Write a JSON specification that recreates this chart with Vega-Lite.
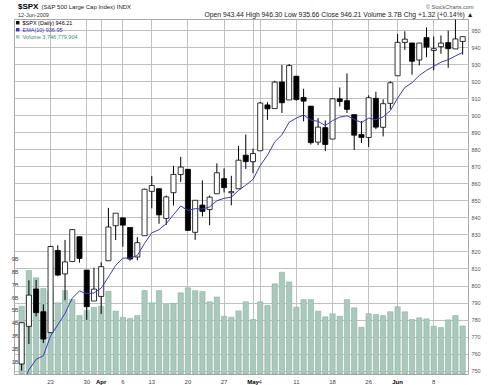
{
  "$schema": "https://vega.github.io/schema/vega-lite/v6.json",
  "width": 454,
  "height": 355,
  "autosize": {"type": "none"},
  "padding": {"left": 14, "top": 19, "right": 21, "bottom": 11},
  "background": "white",
  "title": {
    "text": "$SPX",
    "subtitle": "12-Jun-2009",
    "anchor": "start",
    "frame": "group",
    "offset": -15,
    "dx": 4,
    "font": "Liberation Sans",
    "fontSize": 8,
    "fontWeight": "bold",
    "color": "#000000",
    "subtitleFont": "Liberation Sans",
    "subtitleFontSize": 5.5,
    "subtitleColor": "#333333",
    "subtitlePadding": 2
  },
  "config": {
    "view": {"stroke": "#a8a8a8", "strokeWidth": 1},
    "axis": {"labelFont": "Liberation Sans", "titleFont": "Liberation Sans", "zindex": 0},
    "legend": {"labelFont": "Liberation Sans"}
  },
  "data": {
    "values": [
      {"date": "2009-03-17", "open": 753.88, "high": 778.12, "low": 749.93, "close": 778.12, "volume": 5280000000, "ema": 740.71},
      {"date": "2009-03-18", "open": 776.01, "high": 803.04, "low": 765.64, "close": 794.35, "volume": 8070000000, "ema": 750.46},
      {"date": "2009-03-19", "open": 797.92, "high": 803.24, "low": 781.82, "close": 784.04, "volume": 7500000000, "ema": 756.57},
      {"date": "2009-03-20", "open": 784.58, "high": 788.91, "low": 766.20, "close": 768.54, "volume": 6660000000, "ema": 758.75},
      {"date": "2009-03-23", "open": 772.31, "high": 823.37, "low": 772.31, "close": 822.92, "volume": 6450000000, "ema": 770.42},
      {"date": "2009-03-24", "open": 820.60, "high": 823.65, "low": 805.48, "close": 806.12, "volume": 5550000000, "ema": 776.91},
      {"date": "2009-03-25", "open": 806.81, "high": 826.78, "low": 791.37, "close": 813.88, "volume": 6500000000, "ema": 783.63},
      {"date": "2009-03-26", "open": 814.06, "high": 832.98, "low": 814.06, "close": 832.86, "volume": 5800000000, "ema": 792.58},
      {"date": "2009-03-27", "open": 828.68, "high": 828.68, "low": 813.43, "close": 815.94, "volume": 4560000000, "ema": 796.83},
      {"date": "2009-03-30", "open": 809.07, "high": 809.07, "low": 779.81, "close": 787.53, "volume": 4970000000, "ema": 795.14},
      {"date": "2009-03-31", "open": 790.88, "high": 810.48, "low": 790.88, "close": 797.87, "volume": 5200000000, "ema": 795.64},
      {"date": "2009-04-01", "open": 793.59, "high": 813.62, "low": 783.32, "close": 811.08, "volume": 5280000000, "ema": 798.45},
      {"date": "2009-04-02", "open": 814.53, "high": 845.61, "low": 814.53, "close": 834.38, "volume": 6450000000, "ema": 804.98},
      {"date": "2009-04-03", "open": 835.13, "high": 842.50, "low": 826.70, "close": 842.50, "volume": 4900000000, "ema": 811.80},
      {"date": "2009-04-06", "open": 839.75, "high": 839.75, "low": 822.79, "close": 835.48, "volume": 4420000000, "ema": 816.11},
      {"date": "2009-04-07", "open": 834.12, "high": 834.12, "low": 814.53, "close": 815.55, "volume": 4330000000, "ema": 816.01},
      {"date": "2009-04-08", "open": 816.76, "high": 828.42, "low": 814.84, "close": 825.16, "volume": 4560000000, "ema": 817.67},
      {"date": "2009-04-09", "open": 829.29, "high": 856.91, "low": 829.29, "close": 856.56, "volume": 6500000000, "ema": 824.74},
      {"date": "2009-04-13", "open": 855.33, "high": 864.31, "low": 845.35, "close": 858.73, "volume": 5550000000, "ema": 830.92},
      {"date": "2009-04-14", "open": 856.88, "high": 856.88, "low": 836.31, "close": 841.50, "volume": 6500000000, "ema": 832.84},
      {"date": "2009-04-15", "open": 839.44, "high": 852.93, "low": 835.58, "close": 852.06, "volume": 5420000000, "ema": 836.33},
      {"date": "2009-04-16", "open": 854.54, "high": 870.35, "low": 847.04, "close": 865.30, "volume": 5500000000, "ema": 841.60},
      {"date": "2009-04-17", "open": 865.18, "high": 875.63, "low": 860.87, "close": 869.60, "volume": 6330000000, "ema": 846.69},
      {"date": "2009-04-20", "open": 868.27, "high": 868.27, "low": 832.39, "close": 832.39, "volume": 6720000000, "ema": 844.09},
      {"date": "2009-04-21", "open": 831.25, "high": 850.09, "low": 826.83, "close": 850.08, "volume": 6500000000, "ema": 845.18},
      {"date": "2009-04-22", "open": 847.26, "high": 861.78, "low": 840.57, "close": 843.55, "volume": 6430000000, "ema": 844.88},
      {"date": "2009-04-23", "open": 844.62, "high": 852.87, "low": 835.45, "close": 851.92, "volume": 5630000000, "ema": 846.16},
      {"date": "2009-04-24", "open": 853.91, "high": 871.80, "low": 853.91, "close": 866.23, "volume": 6000000000, "ema": 849.81},
      {"date": "2009-04-27", "open": 862.82, "high": 868.83, "low": 854.65, "close": 857.51, "volume": 4500000000, "ema": 851.21},
      {"date": "2009-04-28", "open": 854.48, "high": 864.48, "low": 847.12, "close": 855.16, "volume": 4430000000, "ema": 851.93},
      {"date": "2009-04-29", "open": 856.85, "high": 882.06, "low": 856.85, "close": 873.64, "volume": 4920000000, "ema": 855.88},
      {"date": "2009-04-30", "open": 876.59, "high": 888.70, "low": 868.51, "close": 872.81, "volume": 5630000000, "ema": 858.96},
      {"date": "2009-05-01", "open": 872.74, "high": 880.48, "low": 866.10, "close": 877.52, "volume": 4250000000, "ema": 862.33},
      {"date": "2009-05-04", "open": 879.21, "high": 907.85, "low": 879.21, "close": 907.24, "volume": 5630000000, "ema": 870.49},
      {"date": "2009-05-05", "open": 906.10, "high": 907.70, "low": 897.34, "close": 903.80, "volume": 5340000000, "ema": 876.55},
      {"date": "2009-05-06", "open": 903.95, "high": 920.28, "low": 903.95, "close": 919.53, "volume": 7030000000, "ema": 884.36},
      {"date": "2009-05-07", "open": 919.58, "high": 929.58, "low": 901.36, "close": 907.39, "volume": 7930000000, "ema": 888.55},
      {"date": "2009-05-08", "open": 909.03, "high": 930.17, "low": 909.03, "close": 929.23, "volume": 7180000000, "ema": 895.95},
      {"date": "2009-05-11", "open": 922.99, "high": 922.99, "low": 908.68, "close": 909.24, "volume": 5200000000, "ema": 898.37},
      {"date": "2009-05-12", "open": 910.52, "high": 915.57, "low": 896.46, "close": 908.35, "volume": 5800000000, "ema": 900.18},
      {"date": "2009-05-13", "open": 905.40, "high": 905.40, "low": 882.80, "close": 883.92, "volume": 5800000000, "ema": 897.22},
      {"date": "2009-05-14", "open": 884.24, "high": 898.36, "low": 882.52, "close": 893.07, "volume": 4900000000, "ema": 896.47},
      {"date": "2009-05-15", "open": 892.76, "high": 896.97, "low": 878.94, "close": 882.88, "volume": 4460000000, "ema": 894.00},
      {"date": "2009-05-18", "open": 886.07, "high": 910.00, "low": 886.07, "close": 909.71, "volume": 4690000000, "ema": 896.86},
      {"date": "2009-05-19", "open": 909.67, "high": 916.39, "low": 905.22, "close": 908.13, "volume": 4500000000, "ema": 898.91},
      {"date": "2009-05-20", "open": 908.62, "high": 924.60, "low": 901.37, "close": 903.47, "volume": 5800000000, "ema": 899.74},
      {"date": "2009-05-21", "open": 900.42, "high": 900.42, "low": 879.61, "close": 888.33, "volume": 5160000000, "ema": 897.67},
      {"date": "2009-05-22", "open": 888.68, "high": 896.65, "low": 883.75, "close": 887.00, "volume": 3650000000, "ema": 895.73},
      {"date": "2009-05-26", "open": 887.00, "high": 911.76, "low": 881.46, "close": 910.33, "volume": 4700000000, "ema": 898.38},
      {"date": "2009-05-27", "open": 909.95, "high": 913.84, "low": 891.87, "close": 893.06, "volume": 4640000000, "ema": 897.41},
      {"date": "2009-05-28", "open": 892.96, "high": 909.45, "low": 887.60, "close": 906.83, "volume": 4560000000, "ema": 899.12},
      {"date": "2009-05-29", "open": 907.02, "high": 920.02, "low": 903.56, "close": 919.14, "volume": 4850000000, "ema": 902.76},
      {"date": "2009-06-01", "open": 923.26, "high": 947.77, "low": 923.26, "close": 942.87, "volume": 5240000000, "ema": 910.05},
      {"date": "2009-06-02", "open": 942.87, "high": 949.38, "low": 938.46, "close": 944.74, "volume": 4850000000, "ema": 916.36},
      {"date": "2009-06-03", "open": 942.51, "high": 942.51, "low": 923.85, "close": 931.76, "volume": 4250000000, "ema": 919.16},
      {"date": "2009-06-04", "open": 932.49, "high": 942.47, "low": 929.32, "close": 942.46, "volume": 4380000000, "ema": 923.40},
      {"date": "2009-06-05", "open": 945.67, "high": 951.69, "low": 934.13, "close": 940.09, "volume": 4300000000, "ema": 926.43},
      {"date": "2009-06-08", "open": 938.12, "high": 946.33, "low": 926.44, "close": 939.14, "volume": 3730000000, "ema": 928.74},
      {"date": "2009-06-09", "open": 940.35, "high": 946.92, "low": 936.15, "close": 942.43, "volume": 3620000000, "ema": 931.23},
      {"date": "2009-06-10", "open": 942.73, "high": 949.77, "low": 927.97, "close": 939.15, "volume": 4220000000, "ema": 932.67},
      {"date": "2009-06-11", "open": 939.04, "high": 956.23, "low": 939.04, "close": 944.89, "volume": 4560000000, "ema": 934.89},
      {"date": "2009-06-12", "open": 943.44, "high": 946.30, "low": 935.66, "close": 946.21, "volume": 3746779904, "ema": 936.95}
    ]
  },
  "layer": [
    {
      "mark": {"type": "bar", "stroke": "#86a99b", "strokeWidth": 0.5, "width": {"band": 0.74}},
      "encoding": {
        "x": {
          "field": "date", "type": "ordinal",
          "scale": {"type": "band", "paddingInner": 0, "paddingOuter": 0.4, "align": 0.7},
          "axis": {
            "orient": "bottom",
            "values": ["2009-03-23", "2009-03-30", "2009-04-01", "2009-04-06", "2009-04-13", "2009-04-20", "2009-04-27", "2009-05-01", "2009-05-04", "2009-05-11", "2009-05-18", "2009-05-26", "2009-06-01", "2009-06-08"],
            "labelExpr": "datum.value == '2009-04-01' ? 'Apr' : datum.value == '2009-05-01' ? 'May' : datum.value == '2009-06-01' ? 'Jun' : '' + toNumber(substring(datum.value, 8, 10))",
            "labelFontWeight": {"condition": {"test": "datum.value == '2009-04-01' || datum.value == '2009-05-01' || datum.value == '2009-06-01'", "value": "bold"}, "value": "normal"},
            "labelColor": {"condition": {"test": "datum.value == '2009-04-01' || datum.value == '2009-05-01' || datum.value == '2009-06-01'", "value": "#000000"}, "value": "#444444"},
            "labelFontSize": 6,
            "grid": false,
            "ticks": true, "tickSize": -355, "tickColor": "#c0c0c0", "tickWidth": 1,
            "domain": false,
            "labelPadding": 359, "labelAngle": 0, "labelOverlap": false,
            "title": "© StockCharts.com",
            "titleAngle": 0, "titleAlign": "right", "titleBaseline": "alphabetic",
            "titleX": 459, "titleY": -366, "titleFontSize": 5.5, "titleFontWeight": "normal", "titleColor": "#555555"
          }
        },
        "y": {
          "field": "volume", "type": "quantitative",
          "scale": {"domain": [0, 27670000000], "nice": false, "zero": true},
          "axis": {
            "orient": "left",
            "values": [1000000000, 2000000000, 3000000000, 4000000000, 5000000000, 6000000000, 7000000000, 8000000000, 9000000000],
            "labelExpr": "(datum.value / 1000000000) + 'B'",
            "grid": false, "ticks": false, "tickSize": 0, "domain": false,
            "labelAlign": "right", "labelPadding": -4, "labelFontSize": 5.5, "labelColor": "#444444",
            "labelOverlap": false, "labelFlush": false,
            "title": "(S&P 500 Large Cap Index) INDX",
            "titleAngle": 0, "titleAlign": "left", "titleBaseline": "alphabetic",
            "titleX": 27, "titleY": -11, "titleFontSize": 6, "titleFontWeight": "normal", "titleColor": "#222222"
          }
        },
        "color": {
          "datum": "Volume 3,746,779,904", "type": "nominal",
          "scale": {
            "domain": ["$SPX (Daily) 946.21", "EMA(10) 936.95", "Volume 3,746,779,904"],
            "range": ["#111111", "#3a3ac0", "#a8c9bc"]
          },
          "legend": {
            "orient": "top-left", "title": null, "offset": 1, "padding": 0, "rowPadding": 0,
            "symbolType": "square", "symbolSize": 12, "symbolStrokeWidth": 0,
            "labelFontSize": 5.5, "labelOffset": 2, "labelLimit": 300,
            "labelColor": {"expr": "indexof(datum.label, 'EMA') >= 0 ? '#3333bb' : indexof(datum.label, 'Volume') >= 0 ? '#3d8c6a' : '#000000'"}
          }
        }
      }
    },
    {
      "mark": {"type": "rule", "color": "#000000", "strokeWidth": 1},
      "encoding": {
        "x": {
          "field": "date", "type": "ordinal",
          "axis": {
            "orient": "bottom",
            "values": ["2009-03-23", "2009-03-30", "2009-04-01", "2009-04-06", "2009-04-13", "2009-04-20", "2009-04-27", "2009-05-01", "2009-05-04", "2009-05-11", "2009-05-18", "2009-05-26", "2009-06-01", "2009-06-08"],
            "labelExpr": "datum.value == '2009-04-01' ? 'Apr' : datum.value == '2009-05-01' ? 'May' : datum.value == '2009-06-01' ? 'Jun' : '' + toNumber(substring(datum.value, 8, 10))",
            "labelFontWeight": {"condition": {"test": "datum.value == '2009-04-01' || datum.value == '2009-05-01' || datum.value == '2009-06-01'", "value": "bold"}, "value": "normal"},
            "labelColor": {"condition": {"test": "datum.value == '2009-04-01' || datum.value == '2009-05-01' || datum.value == '2009-06-01'", "value": "#000000"}, "value": "#444444"},
            "labelFontSize": 6,
            "grid": false,
            "ticks": true, "tickSize": -355, "tickColor": "#c0c0c0", "tickWidth": 1,
            "domain": false,
            "labelPadding": 359, "labelAngle": 0, "labelOverlap": false,
            "title": "© StockCharts.com",
            "titleAngle": 0, "titleAlign": "right", "titleBaseline": "alphabetic",
            "titleX": 459, "titleY": -366, "titleFontSize": 5.5, "titleFontWeight": "normal", "titleColor": "#555555"
          }
        },
        "y": {
          "field": "low", "type": "quantitative",
          "scale": {"domain": [748, 956.6], "nice": false, "zero": false},
          "axis": {
            "orient": "right",
            "values": [750, 760, 770, 780, 790, 800, 810, 820, 830, 840, 850, 860, 870, 880, 890, 900, 910, 920, 930, 940, 950],
            "grid": false,
            "domain": false, "ticks": true, "tickSize": -454, "tickColor": "#c0c0c0", "tickWidth": 1,
            "labelPadding": 457, "labelFontSize": 5.5, "labelColor": "#555555",
            "labelOverlap": false, "labelFlush": false,
            "title": "Open 943.44  High 946.30  Low 935.66  Close 946.21  Volume 3.7B  Chg +1.32 (+0.14%) ▲",
            "titleAngle": 0, "titleAlign": "right", "titleBaseline": "alphabetic",
            "titleX": 5, "titleY": -3, "titleFontSize": 6.8, "titleFontWeight": "normal", "titleColor": "#222222"
          }
        },
        "y2": {"field": "high"}
      }
    },
    {
      "mark": {"type": "bar", "stroke": "#000000", "strokeWidth": 0.8, "width": {"band": 0.7}},
      "encoding": {
        "x": {
          "field": "date", "type": "ordinal",
          "axis": {
            "orient": "bottom",
            "values": ["2009-03-23", "2009-03-30", "2009-04-01", "2009-04-06", "2009-04-13", "2009-04-20", "2009-04-27", "2009-05-01", "2009-05-04", "2009-05-11", "2009-05-18", "2009-05-26", "2009-06-01", "2009-06-08"],
            "labelExpr": "datum.value == '2009-04-01' ? 'Apr' : datum.value == '2009-05-01' ? 'May' : datum.value == '2009-06-01' ? 'Jun' : '' + toNumber(substring(datum.value, 8, 10))",
            "labelFontWeight": {"condition": {"test": "datum.value == '2009-04-01' || datum.value == '2009-05-01' || datum.value == '2009-06-01'", "value": "bold"}, "value": "normal"},
            "labelColor": {"condition": {"test": "datum.value == '2009-04-01' || datum.value == '2009-05-01' || datum.value == '2009-06-01'", "value": "#000000"}, "value": "#444444"},
            "labelFontSize": 6,
            "grid": false,
            "ticks": true, "tickSize": -355, "tickColor": "#c0c0c0", "tickWidth": 1,
            "domain": false,
            "labelPadding": 359, "labelAngle": 0, "labelOverlap": false,
            "title": "© StockCharts.com",
            "titleAngle": 0, "titleAlign": "right", "titleBaseline": "alphabetic",
            "titleX": 459, "titleY": -366, "titleFontSize": 5.5, "titleFontWeight": "normal", "titleColor": "#555555"
          }
        },
        "y": {"field": "open", "type": "quantitative", "scale": {"domain": [748, 956.6], "nice": false, "zero": false}, "axis": null},
        "y2": {"field": "close"},
        "fill": {"condition": {"test": "datum.close >= datum.open", "value": "#ffffff"}, "value": "#000000"}
      }
    },
    {
      "mark": {"type": "line", "color": "#3a3ac0", "strokeWidth": 1, "clip": true},
      "encoding": {
        "x": {
          "field": "date", "type": "ordinal",
          "axis": {
            "orient": "bottom",
            "values": ["2009-03-23", "2009-03-30", "2009-04-01", "2009-04-06", "2009-04-13", "2009-04-20", "2009-04-27", "2009-05-01", "2009-05-04", "2009-05-11", "2009-05-18", "2009-05-26", "2009-06-01", "2009-06-08"],
            "labelExpr": "datum.value == '2009-04-01' ? 'Apr' : datum.value == '2009-05-01' ? 'May' : datum.value == '2009-06-01' ? 'Jun' : '' + toNumber(substring(datum.value, 8, 10))",
            "labelFontWeight": {"condition": {"test": "datum.value == '2009-04-01' || datum.value == '2009-05-01' || datum.value == '2009-06-01'", "value": "bold"}, "value": "normal"},
            "labelColor": {"condition": {"test": "datum.value == '2009-04-01' || datum.value == '2009-05-01' || datum.value == '2009-06-01'", "value": "#000000"}, "value": "#444444"},
            "labelFontSize": 6,
            "grid": false,
            "ticks": true, "tickSize": -355, "tickColor": "#c0c0c0", "tickWidth": 1,
            "domain": false,
            "labelPadding": 359, "labelAngle": 0, "labelOverlap": false,
            "title": "© StockCharts.com",
            "titleAngle": 0, "titleAlign": "right", "titleBaseline": "alphabetic",
            "titleX": 459, "titleY": -366, "titleFontSize": 5.5, "titleFontWeight": "normal", "titleColor": "#555555"
          }
        },
        "y": {"field": "ema", "type": "quantitative", "scale": {"domain": [748, 956.6], "nice": false, "zero": false}, "axis": null}
      }
    }
  ],
  "resolve": {"scale": {"y": "independent"}, "axis": {"y": "independent"}}
}
